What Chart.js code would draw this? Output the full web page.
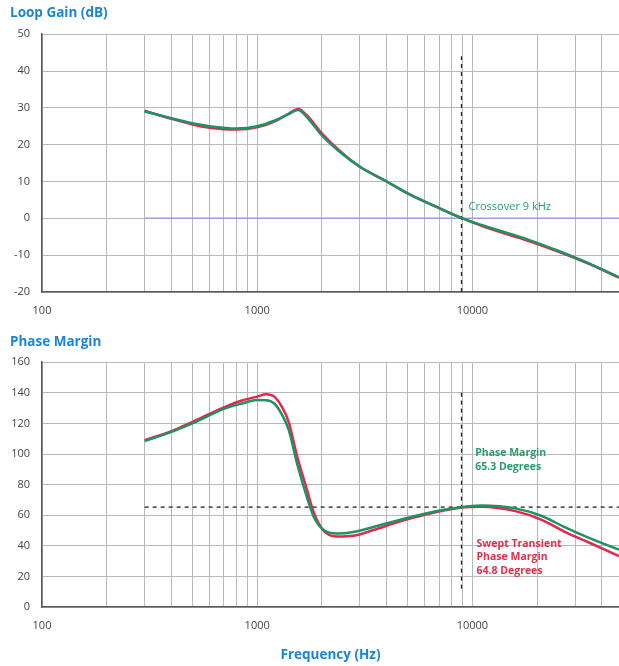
<!DOCTYPE html>
<html>
<head>
<meta charset="utf-8">
<script src="https://cdn.jsdelivr.net/npm/chart.js@4.4.1/dist/chart.umd.min.js"></script>
<style>
    body { margin: 0; background: #fff; overflow: hidden; }
    canvas { display: block; }
</style>
</head>
<body>
<canvas id="gainChart" width="619" height="326"></canvas>
<canvas id="phaseChart" width="619" height="340"></canvas>
<script>
// Loop gain (dB) vs frequency (Hz)
const gainFreq = [300, 400, 500, 600, 700, 800, 1000, 1200, 1400, 1550, 1700, 2000, 2400, 3000, 4000, 5000, 7000, 9000, 12000, 18000, 25000, 35000, 48000];
const gainGreen = [29, 27.2, 25.8, 25, 24.6, 24.4, 25, 26.5, 28.3, 29.4, 27.5, 22.5, 18.2, 14, 10, 6.8, 2.8, 0, -2.5, -5.7, -8.8, -12.3, -16];
const gainRed = [29.2, 27, 25.5, 24.6, 24.2, 24.1, 24.7, 26.3, 28.4, 29.7, 28, 23, 18.5, 14, 10, 6.8, 2.8, 0, -2.8, -6, -9, -12.4, -16.1];
const zeroLine = [0, 0];
const zeroFreq = [300, 48000];
const crossoverFreq = [8900, 8900];
const crossoverGain = [-20, 44];

// Phase margin (degrees) vs frequency (Hz)
const phaseFreq = [300, 400, 500, 700, 850, 1000, 1100, 1200, 1300, 1400, 1530, 1700, 1830, 2030, 2350, 2800, 3500, 4500, 6000, 8800, 11000, 16000, 21000, 27000, 35000, 48000];
const phaseGreen = [108.5, 114.5, 120, 129.5, 133, 135.3, 135.2, 133, 126, 116, 94, 72, 59, 50.5, 48, 49, 52.5, 56.6, 61, 65.2, 66.3, 64.3, 59.5, 52, 45, 37.5];
const phaseRed = [109, 115, 121, 130.5, 135, 137.5, 139, 137.5, 131, 121, 99, 77, 62, 50, 46, 46.5, 50.5, 55.5, 60.3, 64.8, 65.5, 62.5, 57, 49, 42, 33.3];
const marginFreq = [300, 48000];
const marginLevel = [65.3, 65.3];
const crossoverPhase = [12, 140];

const xLabels = [100, 1000, 10000];
const xMin = 100;
const xMax = 48000;

const GREEN = '#1f9262';
const RED = '#e6264c';
const GRID = '#b8b8b8';
const BLUE_TITLE = '#1b84d6';
const FONT = "'Open Sans', 'Liberation Sans', sans-serif";

function points(xs, ys) {
    return xs.map((x, i) => ({ x: x, y: ys[i] }));
}

function curve(label, xs, ys, color, order) {
    return {
        label: label,
        data: points(xs, ys),
        borderColor: color,
        borderWidth: 2.5,
        pointRadius: 0,
        tension: 0.4,
        cubicInterpolationMode: 'monotone',
        order: order
    };
}

function dashed(label, xs, ys) {
    return {
        label: label,
        data: points(xs, ys),
        borderColor: '#222',
        borderWidth: 1.3,
        borderDash: [4, 4],
        pointRadius: 0,
        tension: 0,
        order: 5
    };
}

// log grid: 1..9 in every decade up to xMax
function logTicks(scale) {
    const ticks = [];
    for (let d = 100; d <= xMax; d *= 10) {
        for (let m = 1; m < 10; m++) {
            if (d * m <= xMax) ticks.push({ value: d * m });
        }
    }
    scale.ticks = ticks;
}

// text notes anchored in data coordinates
const notesPlugin = {
    id: 'notes',
    afterDatasetsDraw(chart, args, opts) {
        const ctx = chart.ctx;
        const xs = chart.scales.x, ys = chart.scales.y;
        (opts.items || []).forEach(n => {
            ctx.save();
            ctx.font = n.font;
            ctx.fillStyle = n.color;
            ctx.textBaseline = 'middle';
            const x = xs.getPixelForValue(n.f);
            const y = ys.getPixelForValue(n.v);
            n.lines.forEach((t, i) => ctx.fillText(t, x, y + i * 13.5));
            ctx.restore();
        });
    }
};

function makeOptions(yMin, yMax, step, title, withAxisTitle, notes) {
    return {
        responsive: false,
        animation: false,
        layout: { padding: { left: 10, right: 0, top: 0, bottom: 0 } },
        plugins: {
            legend: { display: false },
            tooltip: { enabled: false },
            title: {
                display: true,
                text: title,
                align: 'start',
                color: BLUE_TITLE,
                font: { family: FONT, size: 13.5, weight: 'bold' },
                padding: withAxisTitle ? { top: 8, bottom: 12 } : { top: 5, bottom: 13 }
            },
            notes: { items: notes }
        },
        scales: {
            x: {
                type: 'logarithmic',
                min: xMin,
                max: xMax,
                afterBuildTicks: logTicks,
                afterFit(scale) { scale.height = withAxisTitle ? 59 : 34; },
                grid: { color: GRID, lineWidth: 1, drawTicks: false },
                border: { color: '#5a5a5a', width: 1.5 },
                ticks: {
                    autoSkip: false,
                    maxRotation: 0,
                    padding: 12,
                    color: '#444',
                    font: { family: FONT, size: 11 },
                    callback: v => xLabels.includes(v) ? String(v) : ''
                },
                title: {
                    display: withAxisTitle,
                    text: 'Frequency (Hz)',
                    color: BLUE_TITLE,
                    font: { family: FONT, size: 13.5, weight: 'bold' },
                    padding: { top: 0, bottom: 3 }
                }
            },
            y: {
                min: yMin,
                max: yMax,
                afterFit(scale) { scale.width = 32; },
                grid: { color: GRID, lineWidth: 1, drawTicks: false },
                border: { color: '#5a5a5a', width: 1.5 },
                ticks: {
                    stepSize: step,
                    padding: 12,
                    color: '#444',
                    font: { family: FONT, size: 11 }
                }
            }
        }
    };
}

new Chart(document.getElementById('gainChart'), {
    type: 'line',
    data: {
        datasets: [
            curve('Swept transient', gainFreq, gainRed, RED, 2),
            curve('Loop gain', gainFreq, gainGreen, GREEN, 1),
            { label: '0 dB', data: points(zeroFreq, zeroLine), borderColor: '#9d9de0', borderWidth: 1.5, pointRadius: 0, order: 4 },
            dashed('Crossover', crossoverFreq, crossoverGain)
        ]
    },
    options: makeOptions(-20, 50, 10, 'Loop Gain (dB)', false, [
        { f: 9600, v: 3.1, lines: ['Crossover 9 kHz'], color: '#2a9a6c', font: '11px ' + FONT }
    ]),
    plugins: [notesPlugin]
});

new Chart(document.getElementById('phaseChart'), {
    type: 'line',
    data: {
        datasets: [
            curve('Swept transient', phaseFreq, phaseRed, RED, 2),
            curve('Phase margin', phaseFreq, phaseGreen, GREEN, 1),
            dashed('Margin level', marginFreq, marginLevel),
            dashed('Crossover', crossoverFreq, crossoverPhase)
        ]
    },
    options: makeOptions(0, 160, 20, 'Phase Margin', true, [
        { f: 10300, v: 100.4, lines: ['Phase Margin', '65.3 Degrees'], color: '#2a9a6c', font: 'bold 10.5px ' + FONT },
        { f: 10450, v: 41.3, lines: ['Swept Transient', 'Phase Margin', '64.8 Degrees'], color: '#e0304c', font: 'bold 10.5px ' + FONT }
    ]),
    plugins: [notesPlugin]
});
</script>
</body>
</html>
